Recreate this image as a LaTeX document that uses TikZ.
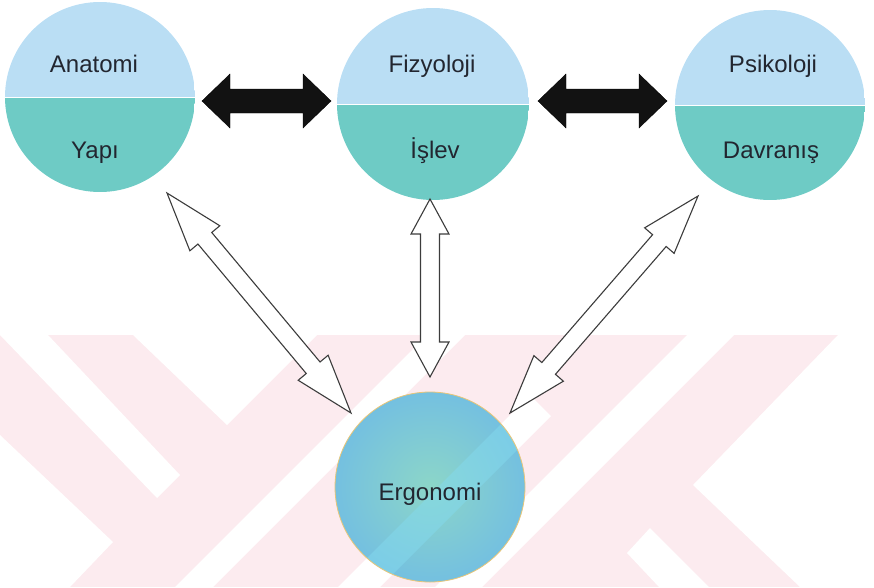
\documentclass[tikz,border=0pt]{standalone}
\usepackage{fontspec}
\setmainfont{Liberation Sans}
\usetikzlibrary{calc}

\definecolor{skyhalf}{RGB}{186,222,244}
\definecolor{tealhalf}{RGB}{110,203,197}
\definecolor{ergout}{RGB}{116,192,224}
\definecolor{ergin}{RGB}{140,214,200}
\definecolor{ergstripe}{RGB}{132,218,238}
\definecolor{ergedge}{RGB}{232,198,120}
\definecolor{wmpink}{RGB}{252,235,239}
\definecolor{inkgrey}{RGB}{34,38,48}
\definecolor{edgegrey}{RGB}{60,60,60}
\definecolor{arrowblack}{RGB}{18,18,18}

% two-headed block arrow: style, head length, head half width, shaft half width, from, to
\newcommand{\twoheaded}[6]{%
  \coordinate (#5h) at ($(#5)!#2!(#6)$);
  \coordinate (#6h) at ($(#6)!#2!(#5)$);
  \draw[#1] (#5) -- ($(#5h)!#3!90:(#6)$) -- ($(#5h)!#4!90:(#6)$)
    -- ($(#6h)!#4!-90:(#5)$) -- ($(#6h)!#3!-90:(#5)$) -- (#6)
    -- ($(#6h)!#3!90:(#5)$) -- ($(#6h)!#4!90:(#5)$)
    -- ($(#5h)!#4!-90:(#6)$) -- ($(#5h)!#3!-90:(#6)$) -- cycle;}

\begin{document}
\begin{tikzpicture}[x=1pt,y=-1pt,
  orb/.style={circle, minimum size=190pt, inner sep=0pt,
    path picture={
      \fill[skyhalf] (path picture bounding box.north west) rectangle (path picture bounding box.east);
      \fill[tealhalf] (path picture bounding box.west) rectangle (path picture bounding box.south east);
      \draw[white, line width=1pt] (path picture bounding box.west) -- (path picture bounding box.east);}},
  ergorb/.style={circle, minimum size=190pt, inner sep=0pt, draw=ergedge, line width=0.8pt,
    shading=radial, inner color=ergin, outer color=ergout,
    path picture={
      \fill[ergstripe, opacity=0.5]
        ($(path picture bounding box.center)+(162,-154)$) -- ($(path picture bounding box.center)+(204,-154)$)
        -- ($(path picture bounding box.center)+(-50,100)$) -- ($(path picture bounding box.center)+(-92,100)$) -- cycle;}},
  word/.style={font=\fontsize{24}{28}\selectfont, text=inkgrey, anchor=base},
  blackarrow/.style={fill=arrowblack},
  whitearrow/.style={draw=edgegrey, fill=white, line width=1.1pt, line join=miter}]
\useasboundingbox (0,0) rectangle (874,587);

% watermark in the background
\fill[wmpink] (0,335) rectangle (874,587);
\fill[white] (0,335) -- (48,335) -- (180,475) -- (157,498) -- cycle;
\fill[white] (133,335) -- (227,425) -- (317,335) -- cycle;
\fill[white] (0,435) -- (113,542) -- (70,587) -- (0,587) -- cycle;
\fill[white] (427,335) -- (465,335) -- (213,587) -- (175,587) -- cycle;
\fill[white] (530,395) -- (551,416) -- (380,587) -- (338,587) -- cycle;
\fill[white] (687,335) -- (734,335) -- (482,587) -- (435,587) -- cycle;
\fill[white] (838,335) -- (874,335) -- (874,587) -- (800,587) -- (693,485) -- cycle;
\fill[white] (650,528) -- (709,587) -- (659,587) -- (627,553) -- cycle;

% the three circles on top
\node[orb] (ana) at (100,97) {};
\node[orb, minimum size=192pt] (fiz) at (433,104) {};
\node[orb] (psi) at (770,105) {};
\node[word] (anaup) at (94,72) {Anatomi};
\node[word] (analow) at (95,158) {Yapı};
\node[word] (fizup) at (432,72) {Fizyoloji};
\node[word] (fizlow) at (435,158) {İşlev};
\node[word] (psiup) at (773,72) {Psikoloji};
\node[word] (psilow) at (771,158) {Davranış};

% bottom circle
\node[ergorb] (erg) at (430,487) {};
\node[word] (ergtxt) at (430,500) {Ergonomi};

% black arrows
\coordinate (k1a) at ($(ana)+(102,4)$);
\coordinate (k1b) at ($(fiz)+(-102,-3)$);
\coordinate (k2a) at ($(fiz)+(105,-3)$);
\coordinate (k2b) at ($(psi)+(-103,-4)$);
\twoheaded{blackarrow}{28pt}{27pt}{12pt}{k1a}{k1b}
\twoheaded{blackarrow}{28pt}{27pt}{12pt}{k2a}{k2b}

% white arrows down to Ergonomi
\coordinate (h1a) at ($(ana)+(67,96)$);
\coordinate (h1b) at ($(erg)+(-79,-74)$);
\coordinate (h2a) at ($(fiz)+(-3,95)$);
\coordinate (h2b) at ($(erg)+(0,-110)$);
\coordinate (h3a) at ($(psi)+(-72,91)$);
\coordinate (h3b) at ($(erg)+(80,-74)$);
\twoheaded{whitearrow}{59pt}{19.5pt}{9pt}{h1a}{h1b}
\twoheaded{whitearrow}{35pt}{19pt}{9.5pt}{h2a}{h2b}
\twoheaded{whitearrow}{59pt}{19.5pt}{9pt}{h3a}{h3b}
\end{tikzpicture}
\end{document}
